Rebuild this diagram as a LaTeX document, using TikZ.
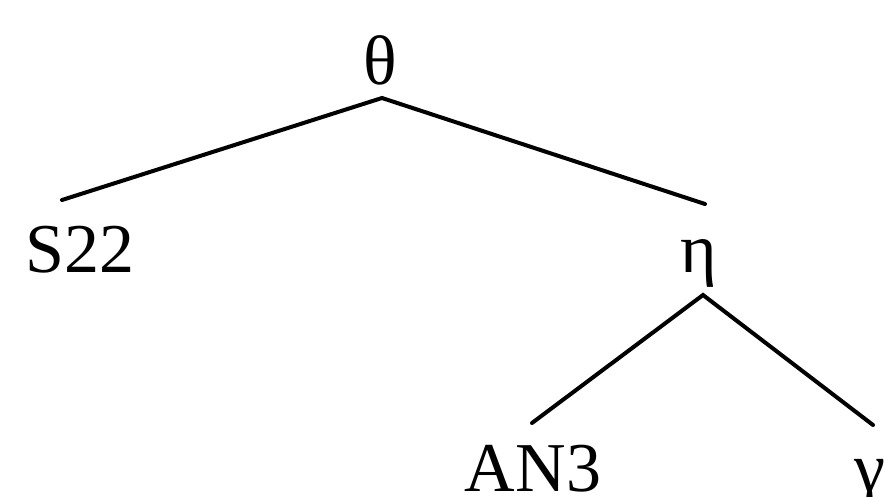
\documentclass[tikz,border=0pt]{standalone}
\usepackage{fontspec}
\setmainfont{Liberation Serif}
\begin{document}
\begin{tikzpicture}[x=1pt,y=-1pt,
  lbl/.style={inner sep=0pt, anchor=base, font=\fontsize{70}{70}\selectfont},
  edge/.style={line width=4pt, line cap=round}]
\useasboundingbox (0,0) rectangle (885,497);
\node[lbl] (theta) at (380,85) {θ};
\node[lbl] (s22) at (80,272) {S22};
\node[lbl] (eta) at (699,272) {η};
\node[lbl] (an3) at (533,491) {AN3};
\node[lbl] (gamma) at (870,491) {γ};
\draw[edge] ([shift={(-18,-72)}]s22.base) -- ([shift={(2,13)}]theta.base) -- ([shift={(6,-68)}]eta.base);
\draw[edge] ([shift={(-1,-68)}]an3.base) -- ([shift={(4,23)}]eta.base) -- ([shift={(3,-66)}]gamma.base);
\end{tikzpicture}
\end{document}
